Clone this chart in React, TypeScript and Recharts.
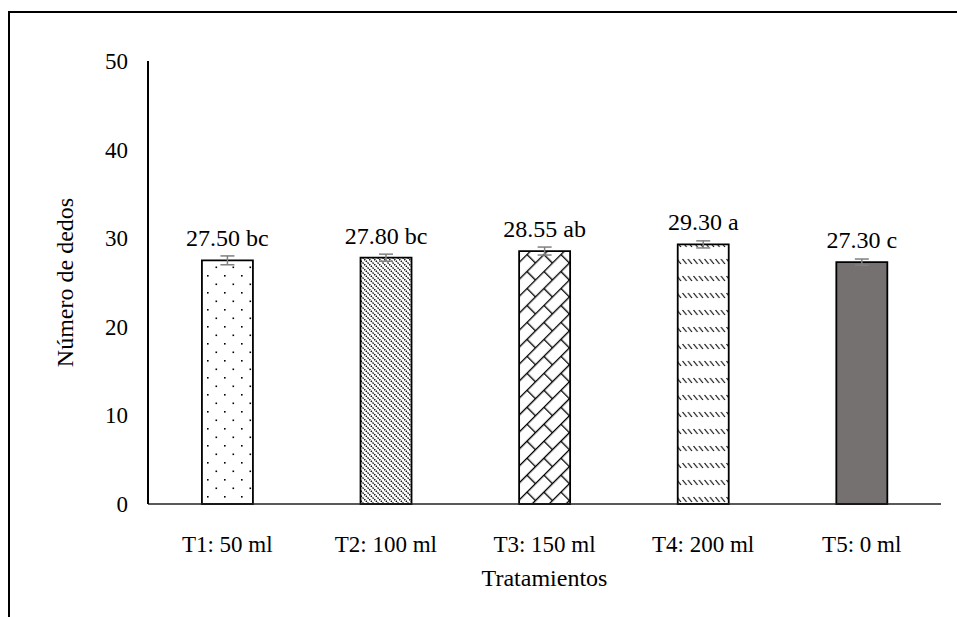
import { BarChart, Bar, XAxis, YAxis, Cell, ErrorBar, LabelList, Label } from 'recharts'

const treatments = ['T1: 50 ml', 'T2: 100 ml', 'T3: 150 ml', 'T4: 200 ml', 'T5: 0 ml']
const means = [27.5, 27.8, 28.55, 29.3, 27.3]
const errors = [0.5, 0.4, 0.45, 0.4, 0.35]
const letters = ['bc', 'bc', 'ab', 'a', 'c']
const yTicks = [0, 10, 20, 30, 40, 50]
const fills = ['url(#pDots)', 'url(#pHatch)', 'url(#pBrick)', 'url(#pDash)', '#767171']

const data = treatments.map((name, i) => ({
  name,
  value: means[i],
  err: errors[i],
  label: `${means[i].toFixed(2)} ${letters[i]}`,
}))

const font = '"Liberation Serif", "Times New Roman", serif'

const ValueLabel = (props: any) => {
  const { x, y, width, value } = props
  return (
    <text x={x + width / 2} y={y - 14} textAnchor="middle" fontSize={24} fontFamily={font} fill="#000">
      {value}
    </text>
  )
}

const XTick = ({ x, y, payload }: any) => (
  <text x={x} y={y + 16} textAnchor="middle" fontSize={23} fontFamily={font} fill="#000">
    {payload.value}
  </text>
)

const YTick = ({ x, y, payload }: any) => (
  <text x={x} y={y + 8} textAnchor="end" fontSize={23} fontFamily={font} fill="#000">
    {payload.value}
  </text>
)

export default function App() {
  return (
    <div
      style={{
        position: 'absolute',
        left: 0,
        top: 0,
        width: 957,
        height: 617,
        background: '#fff',
        overflow: 'hidden',
        fontFamily: font,
      }}
    >
      <div
        style={{
          position: 'absolute',
          left: 8,
          top: 11,
          width: 980,
          height: 640,
          borderTop: '2px solid #000',
          borderLeft: '2px solid #000',
        }}
      />
      <BarChart
        width={957}
        height={617}
        data={data}
        margin={{ top: 61, right: 16, left: 88, bottom: 33 }}
        barCategoryGap="34%"
        style={{ position: 'absolute', left: 0, top: 0 }}
      >
        <defs>
          <pattern id="pDots" width="17" height="17" patternUnits="userSpaceOnUse">
            <rect x="3" y="3" width="1.6" height="1.6" fill="#000" />
            <rect x="11.5" y="11.5" width="1.6" height="1.6" fill="#000" />
          </pattern>
          <pattern id="pHatch" width="5" height="5" patternUnits="userSpaceOnUse">
            <line x1="-1" y1="-1" x2="6" y2="6" stroke="#000" strokeWidth="1.3" strokeDasharray="1.5 1" />
            <line x1="-1" y1="4" x2="1" y2="6" stroke="#000" strokeWidth="1.3" />
            <line x1="4" y1="-1" x2="6" y2="1" stroke="#000" strokeWidth="1.3" />
          </pattern>
          <pattern id="pBrick" width="24" height="24" patternUnits="userSpaceOnUse" patternTransform="rotate(-45)">
            <line x1="0" y1="0.6" x2="24" y2="0.6" stroke="#000" strokeWidth="1.4" />
            <line x1="0" y1="12.6" x2="24" y2="12.6" stroke="#000" strokeWidth="1.4" />
            <line x1="0.6" y1="0" x2="0.6" y2="12" stroke="#000" strokeWidth="1.4" />
            <line x1="12.6" y1="12" x2="12.6" y2="24" stroke="#000" strokeWidth="1.4" />
          </pattern>
          <pattern id="pDash" width="5.5" height="17" patternUnits="userSpaceOnUse">
            <line x1="0.5" y1="4" x2="4.5" y2="9" stroke="#000" strokeWidth="1.2" />
          </pattern>
        </defs>
        <XAxis
          dataKey="name"
          height={80}
          tickLine={false}
          tickMargin={26}
          axisLine={{ stroke: '#222', strokeWidth: 1.5 }}
          tick={<XTick />}
          interval={0}
        >
          <Label
            content={({ viewBox }: any) => (
              <text
                x={viewBox.x + viewBox.width / 2}
                y={viewBox.y + 82}
                textAnchor="middle"
                fontSize={24}
                fontFamily={font}
                fill="#000"
              >
                Tratamientos
              </text>
            )}
          />
        </XAxis>
        <YAxis
          width={60}
          domain={[0, 50]}
          ticks={yTicks}
          tickLine={false}
          tickMargin={14}
          axisLine={{ stroke: '#000', strokeWidth: 2 }}
          tick={<YTick />}
        >
          <Label
            content={({ viewBox }: any) => {
              const cx = viewBox.x - 23
              const cy = viewBox.y + viewBox.height / 2
              return (
                <text
                  x={cx}
                  y={cy}
                  dy={8}
                  transform={`rotate(-90, ${cx}, ${cy})`}
                  textAnchor="middle"
                  fontSize={24}
                  fontFamily={font}
                  fill="#000"
                >
                  Número de dedos
                </text>
              )
            }}
          />
        </YAxis>
        <Bar dataKey="value" stroke="#000" strokeWidth={1.8} isAnimationActive={false}>
          {data.map((d, i) => (
            <Cell key={d.name} fill={fills[i]} />
          ))}
          <ErrorBar dataKey="err" width={7} stroke="#7f7f7f" strokeWidth={1.5} />
          <LabelList dataKey="label" content={ValueLabel} />
        </Bar>
      </BarChart>
    </div>
  )
}
